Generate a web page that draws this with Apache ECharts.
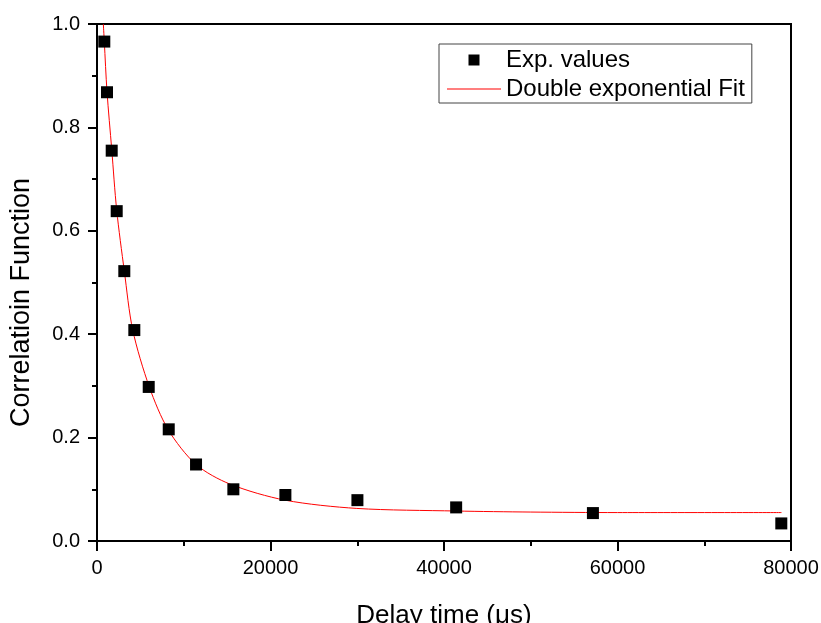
<!DOCTYPE html>
<html>
<head>
<meta charset="utf-8">
<script src="https://cdn.jsdelivr.net/npm/echarts@6/dist/echarts.min.js"></script>
<style>
  html, body { margin: 0; padding: 0; background: #fff; }
  #chart { width: 821px; height: 623px; }
</style>
</head>
<body>
<div id="chart"></div>
<script>
// measured points
const delayTimes = [842, 1153, 1695, 2272, 3148, 4302, 5962, 8269, 11417, 15718, 21716, 30019, 41401, 57166, 78882];
const corrValues = [0.966, 0.868, 0.755, 0.638, 0.522, 0.408, 0.298, 0.216, 0.148, 0.100, 0.089, 0.079, 0.065, 0.054, 0.034];

// fitted curve
const fitX = [730, 842, 1150, 1700, 2270, 3150, 4120, 6030, 8220, 11420, 15340, 21680, 29950, 41400, 50000, 60000, 78900];
const fitY = [1.0, 0.966, 0.870, 0.757, 0.640, 0.522, 0.408, 0.298, 0.215, 0.148, 0.110, 0.079, 0.063, 0.058, 0.056, 0.055, 0.055];

const xTicks = { min: 0, max: 80000, interval: 20000 };
const yTicks = { min: 0, max: 1.0, interval: 0.2 };

const fontName = 'Liberation Sans';

const chart = echarts.init(document.getElementById('chart'));

chart.setOption({
  animation: false,
  grid: {
    left: 97,
    right: 30,
    top: 24,
    bottom: 82,
    outerBoundsMode: 'none',
    show: true,
    borderColor: '#000',
    borderWidth: 2
  },
  legend: {
    orient: 'vertical',
    left: 439,
    top: 44,
    padding: [4, 7, 2, 8],
    itemWidth: 54,
    itemHeight: 11,
    itemGap: 5,
    borderColor: '#444',
    borderWidth: 1,
    symbolKeepAspect: true,
    textStyle: { fontFamily: fontName, fontSize: 24, color: '#000' },
    data: [
      { name: 'Exp. values', icon: 'path://M0,0H10V10H0Z' },
      { name: 'Double exponential Fit', icon: 'path://M0,0H54V1.2H0Z' }
    ]
  },
  xAxis: {
    type: 'value',
    min: xTicks.min,
    max: xTicks.max,
    interval: xTicks.interval,
    name: 'Delay time (μs)',
    nameLocation: 'middle',
    nameGap: 62,
    nameTextStyle: { fontFamily: fontName, fontSize: 26, color: '#000' },
    axisLine: { onZero: false, lineStyle: { color: '#000', width: 2 } },
    axisTick: { show: true, length: 10, lineStyle: { color: '#000', width: 2 } },
    minorTick: { show: true, splitNumber: 2, length: 5, lineStyle: { color: '#000', width: 2 } },
    axisLabel: {
      fontFamily: fontName,
      fontSize: 20,
      color: '#000',
      margin: 17,
      formatter: function (v) { return String(v); }
    },
    splitLine: { show: false }
  },
  yAxis: {
    type: 'value',
    min: yTicks.min,
    max: yTicks.max,
    interval: yTicks.interval,
    name: 'Correlatioin Function',
    nameLocation: 'middle',
    nameGap: 62,
    nameTextStyle: { fontFamily: fontName, fontSize: 27, color: '#000', padding: [0, 40, 0, 0] },
    axisLine: { onZero: false, lineStyle: { color: '#000', width: 2 } },
    axisTick: { show: true, length: 9, lineStyle: { color: '#000', width: 2 } },
    minorTick: { show: true, splitNumber: 2, length: 5, lineStyle: { color: '#000', width: 2 } },
    axisLabel: {
      fontFamily: fontName,
      fontSize: 20,
      color: '#000',
      margin: 17,
      formatter: function (v) { return v.toFixed(1); }
    },
    splitLine: { show: false }
  },
  series: [
    {
      name: 'Exp. values',
      type: 'scatter',
      symbol: 'rect',
      symbolSize: 12,
      itemStyle: { color: '#000', opacity: 1 },
      data: delayTimes.map(function (t, i) { return [t, corrValues[i]]; }),
      z: 3
    },
    {
      name: 'Double exponential Fit',
      type: 'line',
      symbol: 'none',
      smooth: 0.3,
      lineStyle: { color: '#ff0000', width: 1 },
      itemStyle: { color: '#ff0000' },
      data: fitX.map(function (t, i) { return [t, fitY[i]]; }),
      z: 2
    }
  ]
});
</script>
</body>
</html>
